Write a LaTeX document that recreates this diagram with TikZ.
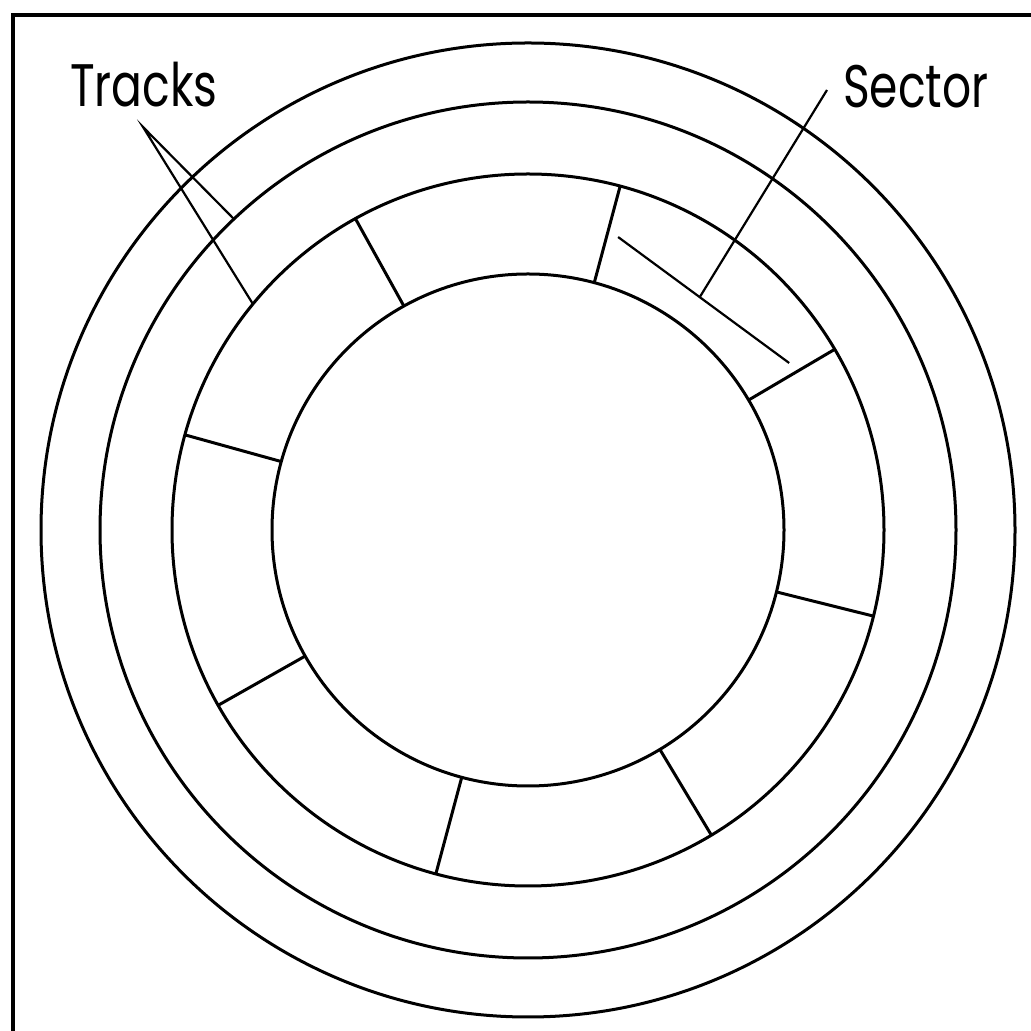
\documentclass[tikz,border=0pt]{standalone}
\usepackage{fontspec}
\setmainfont{Poppins}
\newfontfamily\lblfont{Poppins}[FakeStretch=0.76]
\usetikzlibrary{calc}
\begin{document}
\begin{tikzpicture}[x=1pt,y=1pt,
  ring/.style={line width=3pt},
  divider/.style={line width=3pt},
  leader/.style={line width=2.2pt},
  framestyle/.style={line width=3.5pt},
  lbl/.style={inner sep=0pt, font=\lblfont\fontsize{60}{62}\selectfont}]
\useasboundingbox (0,0) rectangle (1031,1031);
\fill[white] (0,0) rectangle (1031,1031);
\begin{scope}
  \clip (0,0) rectangle (1031,1031);
  \draw[framestyle] (13,-20) -- (13,1016) -- (1060,1016);
\end{scope}
\coordinate (c) at (528,501);
\draw[ring] (c) circle[radius=487];
\draw[ring] (c) circle[radius=428];
\draw[ring] (c) circle[radius=356];
\draw[ring] (c) circle[radius=256];
\foreach \a in {30.5,75,119,164.5,209.5,255,301,346}{
  \draw[divider] ($(c)+(\a:256)$) -- ($(c)+(\a:356)$);
}
\node[lbl, anchor=base west] (tracks) at (70,924) {Tracks};
\node[lbl, anchor=base west] (sector) at (843,923) {Sector};
\coordinate (tapex) at (143,904);
\coordinate (t1) at ($(c)+(133.4:428)$);
\coordinate (t2) at ($(c)+(140.6:356)$);
\draw[leader] (t1) -- (tapex) -- (t2);
\coordinate (sapex) at (827,941);
\coordinate (send) at ($(c)+(53.6:290)$);
\draw[leader] (sapex) -- (send);
\coordinate (sa) at ($(c)+(72.9:306.5)$);
\coordinate (sb) at ($(c)+(32.6:310)$);
\draw[leader] (sa) -- (sb);
\end{tikzpicture}
\end{document}
